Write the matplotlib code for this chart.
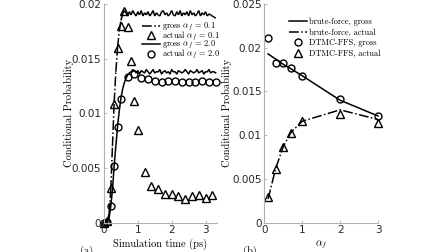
import numpy as np
import matplotlib
matplotlib.use("Agg")
from matplotlib import pyplot as plt
from matplotlib.collections import LineCollection

plt.rcParams["mathtext.fontset"] = "cm"
plt.rcParams["font.family"] = ["DejaVu Sans"]
plt.rcParams["axes.unicode_minus"] = False

# ---- panel (a): probability vs simulation time ----
t_gross = np.round(np.arange(0, 3.31, 0.05), 2)
gross_01 = [0, 0, 0.0002, 0.0008, 0.003, 0.007, 0.011, 0.0138, 0.016, 0.0175, 0.0185, 0.0191, 0.0194,
            0.0192, 0.0189, 0.0193, 0.0190, 0.0194, 0.0191, 0.0189, 0.0193, 0.0190, 0.0194,
            0.0189, 0.0192, 0.0190, 0.0193, 0.0189, 0.0191, 0.0194, 0.0189, 0.0192, 0.0190,
            0.0189, 0.0193, 0.0194, 0.0190, 0.0192, 0.0189, 0.0191, 0.0194, 0.0190, 0.0189,
            0.0193, 0.0190, 0.0194, 0.0189, 0.0192, 0.0190, 0.0193, 0.0189, 0.0194, 0.0190,
            0.0192, 0.0189, 0.0191, 0.0194, 0.0189, 0.0192, 0.0190, 0.0193, 0.0189, 0.0191,
            0.0190, 0.0189, 0.0188, 0.0187]
gross_20 = [0, 0, 0.0001, 0.0004, 0.0015, 0.003, 0.0052, 0.007, 0.0088, 0.0102, 0.0114, 0.0122,
            0.0128, 0.0132, 0.0135, 0.0137,
            0.0138, 0.0140, 0.0139, 0.0137, 0.0139, 0.0136, 0.0139, 0.0138, 0.0137, 0.0140,
            0.0138, 0.0136, 0.0138, 0.0140, 0.0137, 0.0138, 0.0138, 0.0140, 0.0136, 0.0138,
            0.0139, 0.0137, 0.0138, 0.0136, 0.0140, 0.0138, 0.0138, 0.0136, 0.0139, 0.0138,
            0.0137, 0.0138, 0.0140, 0.0138, 0.0136, 0.0139, 0.0138, 0.0137, 0.0138, 0.0140,
            0.0137, 0.0138, 0.0139, 0.0136, 0.0138, 0.0138, 0.0140, 0.0137, 0.0138, 0.0138,
            0.0137]

t_act01 = [0, 0.1, 0.2, 0.3, 0.4, 0.5, 0.6, 0.7, 0.8, 0.9, 1.0, 1.2, 1.4, 1.6, 1.8, 2.0,
           2.2, 2.4, 2.6, 2.8, 3.0, 3.2]
act_01 = [0, 0.0002, 0.0032, 0.0109, 0.0160, 0.0180, 0.0194, 0.0179, 0.0148, 0.0111, 0.0085,
          0.0046, 0.0034, 0.0031, 0.0026, 0.0026, 0.0024, 0.0022, 0.0024, 0.0025, 0.0023, 0.0025]

t_act20 = [0, 0.1, 0.2, 0.3, 0.4, 0.5, 0.7, 0.9, 1.1, 1.3, 1.5, 1.7, 1.9, 2.1, 2.3, 2.5,
           2.7, 2.9, 3.1, 3.3]
act_20 = [0, 0.0001, 0.0015, 0.0052, 0.00875, 0.0113, 0.01335, 0.0136, 0.01326, 0.0131,
          0.0130, 0.01285, 0.0130, 0.01295, 0.0129, 0.0129, 0.0129, 0.0130, 0.01285, 0.0129]

# ---- panel (b): probability vs alpha_f ----
alpha = [0.1, 0.3, 0.5, 0.7, 1.0, 2.0, 3.0]
bf_gross = [0.0193, 0.0187, 0.0181, 0.0176, 0.0168, 0.0140, 0.0122]
bf_actual = [0.0027, 0.0062, 0.0087, 0.0103, 0.0116, 0.0129, 0.0118]
ffs_gross = [0.0211, 0.0183, 0.0182, 0.01765, 0.0168, 0.0141, 0.0122]
ffs_actual = [0.0029, 0.0061, 0.0086, 0.0102, 0.0116, 0.0124, 0.0114]

axis_col = "#b0b0b0"
tick_col = "#262626"
serif = "cmr10"

fig = plt.figure(figsize=(4.48, 2.52), dpi=100)
W, H = 448.0, 252.0
ax1 = fig.add_axes([104 / W, 1 - 222.7 / H, (216.7 - 104) / W, (222.7 - 4) / H])
ax2 = fig.add_axes([264.3 / W, 1 - 222.7 / H, (378 - 264.3) / W, (222.7 - 4) / H])

circ = dict(marker="o", markerfacecolor="none", markeredgecolor="k", markersize=5.0, markeredgewidth=1.0)
tri = dict(marker="^", markerfacecolor="none", markeredgecolor="k", markersize=5.6, markeredgewidth=1.0)

# dash pattern restarts on every segment (like the original renderer), so the noisy
# plateau looks solid while the steep rise shows the dash-dot
segs = [[(t_gross[i], gross_01[i]), (t_gross[i + 1], gross_01[i + 1])] for i in range(len(t_gross) - 1)]
lc = LineCollection(segs, colors="k", linestyles="-.", linewidths=1.1, clip_on=False)
ax1.add_collection(lc)
ax1.plot([], [], color="k", ls="-.", lw=1.1, label=r"gross $\alpha_f$ = 0.1")
ax1.plot(t_act01, act_01, ls="none", label=r"actual $\alpha_f$ = 0.1", **tri)
ax1.plot(t_gross, gross_20, color="k", ls="-", lw=1.1, label=r"gross $\alpha_f$ = 2.0")
ax1.plot(t_act20, act_20, ls="none", label=r"actual $\alpha_f$ = 2.0", **circ)
ax1.set_xlim(0, 3.33)
ax1.set_ylim(0, 0.02)
ax1.set_xticks([0, 1, 2, 3])
ax1.set_yticks([0, 0.005, 0.01, 0.015, 0.02])
ax1.set_yticklabels(["0", "0.005", "0.01", "0.015", "0.02"])
ax1.set_xlabel("Simulation time (ps)", fontname=serif, fontsize=7.5, labelpad=2)
ax1.set_ylabel("Conditional Probability", fontname=serif, fontsize=7.5)
ax1.yaxis.set_label_coords(-0.27, 0.5)

ax2.plot(alpha, bf_gross, color="k", ls="-", lw=1.1, label="brute-force, gross")
ax2.plot(alpha, bf_actual, color="k", ls="-.", lw=1.1, label="brute-force, actual")
ax2.plot(alpha, ffs_gross, ls="none", label="DTMC-FFS, gross", **circ)
ax2.plot(alpha, ffs_actual, ls="none", label="DTMC-FFS, actual", **tri)
ax2.set_xlim(0, 3)
ax2.set_ylim(0, 0.025)
ax2.set_xticks([0, 1, 2, 3])
ax2.set_yticks([0, 0.005, 0.01, 0.015, 0.02, 0.025])
ax2.set_yticklabels(["0", "0.005", "0.01", "0.015", "0.02", "0.025"])
ax2.set_xlabel(r"$\alpha_f$", fontsize=7.5, labelpad=2)
ax2.set_ylabel("Conditional Probability", fontname=serif, fontsize=7.5)
ax2.yaxis.set_label_coords(-0.28, 0.5)

for ax in (ax1, ax2):
    for s in ("top", "right"):
        ax.spines[s].set_visible(False)
    for s in ("left", "bottom"):
        ax.spines[s].set_color(axis_col)
        ax.spines[s].set_linewidth(0.8)
    ax.tick_params(direction="in", length=2, width=0.6, color=axis_col,
                   labelsize=7.5, labelcolor=tick_col, pad=2)
    for p in ax.lines:
        p.set_clip_on(False)

leg_kw = dict(frameon=False, loc="upper left", borderpad=0, borderaxespad=0,
              handlelength=2.2, handletextpad=0.2, prop={"family": serif, "size": 6})
ax1.legend(bbox_to_anchor=(142 / W, 1 - 21 / H), bbox_transform=fig.transFigure,
           labelspacing=-0.4, **leg_kw)
ax2.legend(bbox_to_anchor=(289 / W, 1 - 18 / H), bbox_transform=fig.transFigure,
           labelspacing=0.25, **leg_kw)

fig.text(87 / W, 1 - 246 / H, "(a)", fontname=serif, fontsize=7.5, ha="center", va="top")
fig.text(250 / W, 1 - 246 / H, "(b)", fontname=serif, fontsize=7.5, ha="center", va="top")

fig.savefig("out.png", dpi=100)
